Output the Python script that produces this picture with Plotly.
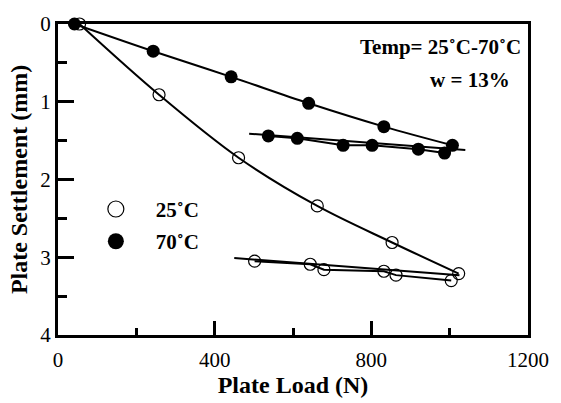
import plotly.graph_objects as go

# 70 C loading / unloading
load70_x = [42, 243, 442, 640, 832, 1007]
load70_y = [0.0, 0.35, 0.68, 1.02, 1.32, 1.56]
unload70_x = [537, 611, 728, 802, 920, 987]
unload70_y = [1.44, 1.47, 1.56, 1.56, 1.61, 1.66]
fit70_x = [488, 1040]
fit70_y = [1.41, 1.62]

# 25 C loading / unloading
load25_x = [55, 258, 461, 662, 853, 1023]
load25_y = [0.0, 0.91, 1.72, 2.34, 2.81, 3.21]
unload25_x = [502, 644, 679, 832, 863, 1004]
unload25_y = [3.05, 3.09, 3.16, 3.18, 3.23, 3.30]
fit25_x = [450, 1025]
fit25_y = [3.01, 3.23]

x_ticks = [0, 400, 800, 1200]
y_ticks = [0, 1, 2, 3, 4]
legend_names = ["25˚C", "70˚C"]

SERIF = "Liberation Serif, Times New Roman, serif"

fig = go.Figure()

line = dict(color="black", width=2)
fig.add_trace(go.Scatter(x=load70_x, y=load70_y, mode="lines", line=dict(shape="spline", **line), showlegend=False, cliponaxis=False))
fig.add_trace(go.Scatter(x=load25_x, y=load25_y, mode="lines", line=dict(shape="spline", **line), showlegend=False, cliponaxis=False))
fig.add_trace(go.Scatter(x=unload70_x, y=unload70_y, mode="lines", line=line, showlegend=False))
fig.add_trace(go.Scatter(x=fit70_x, y=fit70_y, mode="lines", line=line, showlegend=False))
fig.add_trace(go.Scatter(x=unload25_x, y=unload25_y, mode="lines", line=line, showlegend=False))
fig.add_trace(go.Scatter(x=fit25_x, y=fit25_y, mode="lines", line=line, showlegend=False))

open_marker = dict(symbol="circle-open", size=12, color="black", line=dict(width=1.2, color="black"))
filled_marker = dict(symbol="circle", size=13, color="black")

fig.add_trace(go.Scatter(x=load25_x + unload25_x, y=load25_y + unload25_y, mode="markers",
                         marker=open_marker, showlegend=False, cliponaxis=False))
fig.add_trace(go.Scatter(x=load70_x + unload70_x, y=load70_y + unload70_y, mode="markers",
                         marker=filled_marker, showlegend=False, cliponaxis=False))

# legend entries (larger symbols, as in the original legend)
fig.add_trace(go.Scatter(x=[None], y=[None], mode="markers", name="<b>%s</b>" % legend_names[0],
                         marker=dict(symbol="circle-open", size=20, color="black", line=dict(width=1.2, color="black")),
                         legendgroup="a"))
fig.add_trace(go.Scatter(x=[None], y=[None], mode="markers", name="<b>%s</b>" % legend_names[1],
                         marker=dict(symbol="circle", size=20, color="black"), legendgroup="b"))

axis_common = dict(
    showgrid=False, zeroline=False, showline=True, linewidth=3, linecolor="black",
    mirror=True, ticks="inside", tickwidth=3, tickcolor="black",
    tickfont=dict(family=SERIF, size=21, color="black"),
)

fig.update_xaxes(range=[0, 1200], tickvals=x_ticks, ticklen=14, ticklabelstandoff=4,
                 minor=dict(tickvals=[200, 600, 1000], ticklen=7, tickwidth=3, ticks="inside", tickcolor="black"),
                 title=dict(text="<b>Plate Load (N)</b>", font=dict(family=SERIF, size=24, color="black"), standoff=2),
                 **axis_common)
fig.update_yaxes(range=[4, 0], tickvals=y_ticks, ticklen=16,
                 minor=dict(tickvals=[0.5, 1.5, 2.5, 3.5], ticklen=9, tickwidth=3, ticks="inside", tickcolor="black"),
                 title=dict(text="<b>Plate Settlement (mm)</b>", font=dict(family=SERIF, size=24, color="black"), standoff=6),
                 **axis_common)

fig.add_annotation(x=0.99, y=0.925, xref="paper", yref="paper", xanchor="right", yanchor="middle", showarrow=False,
                   text="<b>Temp= 25˚C-70˚C</b>", font=dict(family=SERIF, size=21, color="black"))
fig.add_annotation(x=0.965, y=0.82, xref="paper", yref="paper", xanchor="right", yanchor="middle", showarrow=False,
                   text="<b>w = 13%</b>", font=dict(family=SERIF, size=21, color="black"))

fig.update_layout(
    width=561, height=403,
    margin=dict(l=58, r=25, t=18, b=67),
    plot_bgcolor="white", paper_bgcolor="white",
    legend=dict(x=0.038, y=0.47, xanchor="left", yanchor="top", bgcolor="rgba(0,0,0,0)",
                font=dict(family=SERIF, size=21, color="black"), itemsizing="trace", tracegroupgap=2,
                traceorder="grouped", itemwidth=70),
    font=dict(family=SERIF, color="black"),
)

fig.write_html("out.html")
